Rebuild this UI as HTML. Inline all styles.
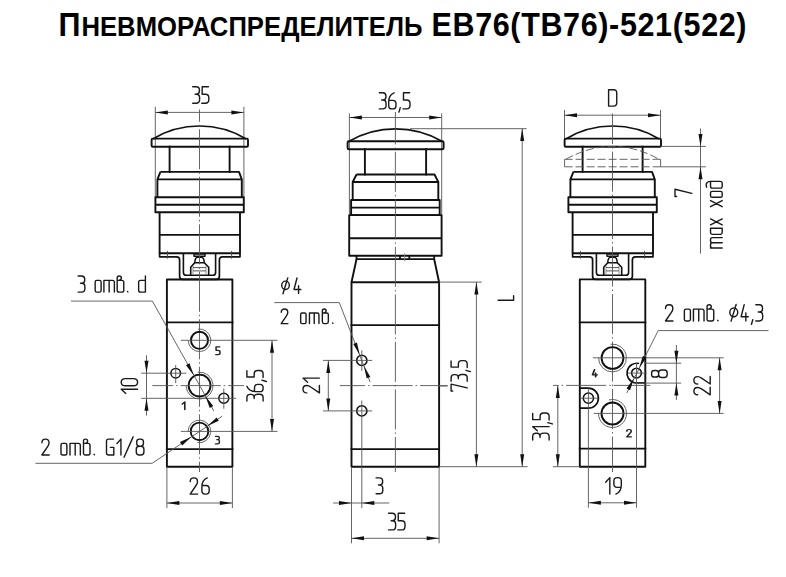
<!DOCTYPE html>
<html><head><meta charset="utf-8"><style>
html,body{margin:0;padding:0;background:#fff;}
body{width:786px;height:577px;overflow:hidden;font-family:"Liberation Sans",sans-serif;}
svg{display:block;}
</style></head><body>
<svg width="786" height="577" viewBox="0 0 786 577">
<rect width="786" height="577" fill="#fff"/>
<text y="35.9" transform="scale(0.930 1)" font-family="Liberation Sans" font-weight="bold" fill="#000"><tspan x="62.90" font-size="32.8">П</tspan><tspan x="87.53" font-size="27.6" textLength="366.67" lengthAdjust="spacing">НЕВМОРАСПРЕДЕЛИТЕЛЬ</tspan><tspan x="463.98" font-size="32.8" textLength="338.71" lengthAdjust="spacing">ЕВ76(ТВ76)-521(522)</tspan></text>
<line x1="155.30" y1="106.70" x2="155.30" y2="197.30" stroke="#555" stroke-width="0.90"/>
<line x1="243.90" y1="106.70" x2="243.90" y2="197.30" stroke="#555" stroke-width="0.90"/>
<line x1="155.30" y1="112.40" x2="243.90" y2="112.40" stroke="#555" stroke-width="0.90"/>
<path d="M155.30,112.40 L167.80,110.40 L167.80,114.40 Z" fill="#111"/>
<path d="M243.90,112.40 L231.40,114.40 L231.40,110.40 Z" fill="#111"/>
<g transform="translate(192.70 103.20) scale(1.6400 1.6400) translate(0 -10)" fill="none" stroke="#1a1a1a" stroke-width="0.854" stroke-linecap="round" stroke-linejoin="round"><path transform="translate(0.000 0)" d="M0,0H2.2Q4.1,0 4.1,2.0V2.6Q4.1,4.5 2.2,4.5H1.5M2.3,4.5Q4.2,4.5 4.2,6.6V7.9Q4.2,10 2.1,10H0"/><path transform="translate(5.517 0)" d="M4.1,0H0.25V4.5H2.2Q4.3,4.5 4.3,6.6V7.9Q4.3,10 2.2,10H0"/></g>
<path d="M152.80,138.9 A91.0,91.0 0 0 1 246.20,138.9" fill="none" stroke="#111" stroke-width="1.70" stroke-linejoin="round"/>
<path d="M152.80,138.6 H246.80 Q248.00,138.6 248.00,140 V145.4 Q248.00,146.7 246.80,146.7 H152.80 Q151.60,146.7 151.60,145.4 V140 Q151.60,138.6 152.80,138.6 Z" fill="none" stroke="#111" stroke-width="1.90" stroke-linejoin="round"/>
<line x1="169.60" y1="146.70" x2="169.60" y2="171.90" stroke="#111" stroke-width="1.90" stroke-linecap="square"/>
<line x1="229.60" y1="146.70" x2="229.60" y2="171.90" stroke="#111" stroke-width="1.90" stroke-linecap="square"/>
<path d="M160.40,171.9 H239.00 L241.80,179.4 V197.3 M160.40,171.9 L157.40,179.4 V197.3 M157.40,179.4 H241.80" fill="none" stroke="#111" stroke-width="1.90" stroke-linejoin="round"/>
<path d="M155.40,197.3 H243.80 V212.2 H155.40 Z M155.40,204.8 H243.80" fill="none" stroke="#111" stroke-width="1.90" stroke-linejoin="round"/>
<path d="M159.60,212.2 V253.20 H240.00 V212.2 M159.60,234.9 H240.00" fill="none" stroke="#111" stroke-width="1.90" stroke-linejoin="round"/>
<path d="M159.60,253.20 V256.80 H176.60 Q179.60,256.80 179.60,259.80 V276.3 Q179.60,279.4 182.70,279.4 H216.30 Q219.40,279.4 219.40,276.3 V259.80 Q219.40,256.80 222.40,256.80 H240.00 V253.20" fill="none" stroke="#111" stroke-width="1.70" stroke-linejoin="round"/>
<path d="M183.40,253.20 V272.4 Q183.40,275.3 186.30,275.3 H212.70 Q215.60,275.3 215.60,272.4 V253.20" fill="none" stroke="#111" stroke-width="1.60" stroke-linejoin="round"/>
<line x1="167.40" y1="250.90" x2="167.40" y2="258.70" stroke="#444" stroke-width="0.90"/>
<line x1="231.60" y1="250.90" x2="231.60" y2="258.70" stroke="#444" stroke-width="0.90"/>
<path d="M194.00,254.10 H205.00 V256.20 H194.00 Z" fill="none" stroke="#111" stroke-width="1.40" stroke-linejoin="round"/>
<path d="M194.70,262.7 C195.00,258.6 196.00,257.3 197.60,257.3 H201.40 C203.00,257.3 204.00,258.6 204.30,262.7 Z" fill="none" stroke="#111" stroke-width="1.50" stroke-linejoin="round"/>
<path d="M194.70,262.7 L190.70,267.2 V275.3 M204.30,262.7 L208.70,267.2 V275.3" fill="none" stroke="#111" stroke-width="1.60" stroke-linejoin="round"/>
<line x1="193.00" y1="267.60" x2="206.00" y2="267.60" stroke="#444" stroke-width="0.90"/>
<line x1="193.00" y1="270.90" x2="206.00" y2="270.90" stroke="#444" stroke-width="0.90"/>
<line x1="193.00" y1="266.00" x2="193.00" y2="274.50" stroke="#777" stroke-width="0.80"/>
<line x1="206.00" y1="266.00" x2="206.00" y2="274.50" stroke="#777" stroke-width="0.80"/>
<path d="M166.9,279.5 H232.4 V466.7 H166.9 Z" fill="none" stroke="#111" stroke-width="1.90" stroke-linejoin="round"/>
<line x1="166.90" y1="322.40" x2="232.40" y2="322.40" stroke="#111" stroke-width="1.90" stroke-linecap="square"/>
<line x1="166.90" y1="449.10" x2="232.40" y2="449.10" stroke="#111" stroke-width="1.90" stroke-linecap="square"/>
<line x1="199.50" y1="109.50" x2="199.50" y2="472.00" stroke="#555" stroke-width="0.90" stroke-dasharray="40 3 1.5 3" stroke-dashoffset="-19.8"/>
<circle cx="199.50" cy="340.30" r="8.55" fill="none" stroke="#111" stroke-width="1.90"/>
<path d="M197.93,329.11 A11.30,11.30 0 1 1 188.21,340.69" fill="none" stroke="#555" stroke-width="0.90" stroke-linejoin="round"/>
<circle cx="199.60" cy="385.60" r="10.95" fill="none" stroke="#111" stroke-width="1.90"/>
<path d="M197.72,372.23 A13.50,13.50 0 1 1 186.11,386.07" fill="none" stroke="#555" stroke-width="0.90" stroke-linejoin="round"/>
<circle cx="199.50" cy="431.40" r="8.80" fill="none" stroke="#111" stroke-width="1.90"/>
<path d="M188.10,431.40 A11.30,11.30 0 1 1 197.44,442.53" fill="none" stroke="#555" stroke-width="0.90" stroke-linejoin="round"/>
<circle cx="175.70" cy="373.20" r="4.80" fill="none" stroke="#111" stroke-width="1.50"/>
<circle cx="223.80" cy="398.30" r="5.00" fill="none" stroke="#111" stroke-width="1.50"/>
<line x1="180.90" y1="340.30" x2="277.50" y2="340.30" stroke="#555" stroke-width="0.90"/>
<line x1="180.90" y1="431.40" x2="277.50" y2="431.40" stroke="#555" stroke-width="0.90"/>
<line x1="152.30" y1="385.60" x2="244.00" y2="385.60" stroke="#555" stroke-width="0.90" stroke-dasharray="40 3 1.5 3" stroke-dashoffset="19.1"/>
<line x1="141.20" y1="373.20" x2="186.30" y2="373.20" stroke="#555" stroke-width="0.90"/>
<line x1="141.20" y1="398.30" x2="236.00" y2="398.30" stroke="#555" stroke-width="0.90"/>
<line x1="175.70" y1="365.00" x2="175.70" y2="383.20" stroke="#555" stroke-width="0.90"/>
<line x1="223.80" y1="388.40" x2="223.80" y2="408.80" stroke="#555" stroke-width="0.90"/>
<g transform="translate(215.80 354.70) scale(0.9767 0.7900) translate(0 -10)" fill="none" stroke="#222" stroke-width="1.519" stroke-linecap="round" stroke-linejoin="round"><path transform="translate(0.000 0)" d="M4.1,0H0.25V4.5H2.2Q4.3,4.5 4.3,6.6V7.9Q4.3,10 2.2,10H0"/></g>
<g transform="translate(182.20 409.60) scale(1.0400 0.7600) translate(0 -10)" fill="none" stroke="#222" stroke-width="1.579" stroke-linecap="round" stroke-linejoin="round"><path transform="translate(0.000 0)" d="M0,2.8L2.5,0V10"/></g>
<g transform="translate(215.50 443.90) scale(0.9268 0.7600) translate(0 -10)" fill="none" stroke="#222" stroke-width="1.579" stroke-linecap="round" stroke-linejoin="round"><path transform="translate(0.000 0)" d="M0,0H2.2Q4.1,0 4.1,2.0V2.6Q4.1,4.5 2.2,4.5H1.5M2.3,4.5Q4.2,4.5 4.2,6.6V7.9Q4.2,10 2.1,10H0"/></g>
<line x1="146.50" y1="355.30" x2="146.50" y2="415.60" stroke="#555" stroke-width="0.90"/>
<path d="M146.50,373.20 L144.50,360.70 L148.50,360.70 Z" fill="#111"/>
<path d="M146.50,398.30 L148.50,410.80 L144.50,410.80 Z" fill="#111"/>
<g transform="translate(137.60 393.40) rotate(-90) scale(1.6400 1.6400) translate(0 -10)" fill="none" stroke="#1a1a1a" stroke-width="0.854" stroke-linecap="round" stroke-linejoin="round"><path transform="translate(0.000 0)" d="M0,2.8L2.5,0V10"/><path transform="translate(4.624 0)" d="M2.2,0Q4.4,0 4.4,2.6V7.4Q4.4,10 2.2,10Q0,10 0,7.4V2.6Q0,0 2.2,0Z"/></g>
<line x1="272.00" y1="340.30" x2="272.00" y2="431.40" stroke="#555" stroke-width="0.90"/>
<path d="M272.00,340.30 L274.00,352.80 L270.00,352.80 Z" fill="#111"/>
<path d="M272.00,431.40 L270.00,418.90 L274.00,418.90 Z" fill="#111"/>
<g transform="translate(263.10 401.00) rotate(-90) scale(1.6200 1.6200) translate(0 -10)" fill="none" stroke="#1a1a1a" stroke-width="0.864" stroke-linecap="round" stroke-linejoin="round"><path transform="translate(0.000 0)" d="M0,0H2.2Q4.1,0 4.1,2.0V2.6Q4.1,4.5 2.2,4.5H1.5M2.3,4.5Q4.2,4.5 4.2,6.6V7.9Q4.2,10 2.1,10H0"/><path transform="translate(5.776 0)" d="M3.3,0Q0,1.3 0,5.6V8.0Q0,10 2.0,10H2.5Q4.5,10 4.5,8.0V6.7Q4.5,4.7 2.5,4.7H0.05"/><path transform="translate(11.951 0)" d="M0.9,9.2L0.1,12"/><path transform="translate(14.527 0)" d="M4.1,0H0.25V4.5H2.2Q4.3,4.5 4.3,6.6V7.9Q4.3,10 2.2,10H0"/></g>
<line x1="166.90" y1="466.70" x2="166.90" y2="508.00" stroke="#555" stroke-width="0.90"/>
<line x1="232.40" y1="466.70" x2="232.40" y2="508.00" stroke="#555" stroke-width="0.90"/>
<line x1="166.90" y1="503.00" x2="232.40" y2="503.00" stroke="#555" stroke-width="0.90"/>
<path d="M166.90,503.00 L179.40,501.00 L179.40,505.00 Z" fill="#111"/>
<path d="M232.40,503.00 L219.90,505.00 L219.90,501.00 Z" fill="#111"/>
<g transform="translate(190.20 494.10) scale(1.6200 1.6200) translate(0 -10)" fill="none" stroke="#1a1a1a" stroke-width="0.864" stroke-linecap="round" stroke-linejoin="round"><path transform="translate(0.000 0)" d="M0,2.3C0,0.6 1.1,0 2.3,0C3.6,0 4.5,0.8 4.5,2.3C4.5,3.3 4.1,4.0 3.6,4.7L0,10H4.6"/><path transform="translate(7.228 0)" d="M3.3,0Q0,1.3 0,5.6V8.0Q0,10 2.0,10H2.5Q4.5,10 4.5,8.0V6.7Q4.5,4.7 2.5,4.7H0.05"/></g>
<line x1="71.00" y1="301.10" x2="152.40" y2="301.10" stroke="#555" stroke-width="0.90"/>
<line x1="152.40" y1="301.10" x2="213.80" y2="410.90" stroke="#555" stroke-width="0.90"/>
<path d="M193.80,375.21 L185.96,365.27 L189.45,363.32 Z" fill="#111"/>
<path d="M205.40,395.99 L213.24,405.93 L209.75,407.88 Z" fill="#111"/>
<g transform="translate(78.10 292.10) scale(1.6100 1.6100) translate(0 -10)" fill="none" stroke="#1a1a1a" stroke-width="0.870" stroke-linecap="round" stroke-linejoin="round"><path transform="translate(0.000 0)" d="M0,0H2.2Q4.1,0 4.1,2.0V2.6Q4.1,4.5 2.2,4.5H1.5M2.3,4.5Q4.2,4.5 4.2,6.6V7.9Q4.2,10 2.1,10H0"/><path transform="translate(10.600 0)" d="M1,2.7H2.7Q3.7,2.7 3.7,3.7V9Q3.7,10 2.7,10H1Q0,10 0,9V3.7Q0,2.7 1,2.7Z"/><path transform="translate(16.034 0)" d="M0,10V2.7H5.3Q6.5,2.7 6.5,3.9V10M3.25,2.7V10"/><path transform="translate(24.267 0)" d="M0,8.8V1.3Q0,0 1.3,0Q2.6,0 2.6,1.3Q2.6,2.4 1.0,2.7M0,2.7H2.9Q4.1,2.7 4.1,3.9V8.8Q4.1,10 2.9,10H1.2Q0,10 0,8.8"/><path transform="translate(30.101 0)" d="M0.6,9.6L0.8,9.85"/><path transform="translate(37.601 0)" d="M4.2,0V10H1.2Q0,10 0,8.8V3.9Q0,2.7 1.2,2.7H4.2"/></g>
<line x1="35.40" y1="463.30" x2="152.20" y2="463.30" stroke="#555" stroke-width="0.90"/>
<line x1="152.20" y1="463.30" x2="222.20" y2="416.20" stroke="#555" stroke-width="0.90"/>
<path d="M191.44,436.76 L182.18,445.40 L179.95,442.08 Z" fill="#111"/>
<path d="M207.36,426.04 L216.62,417.40 L218.85,420.72 Z" fill="#111"/>
<g transform="translate(41.90 455.00) scale(1.5900 1.5900) translate(0 -10)" fill="none" stroke="#1a1a1a" stroke-width="0.881" stroke-linecap="round" stroke-linejoin="round"><path transform="translate(0.000 0)" d="M0,2.3C0,0.6 1.1,0 2.3,0C3.6,0 4.5,0.8 4.5,2.3C4.5,3.3 4.1,4.0 3.6,4.7L0,10H4.6"/><path transform="translate(12.003 0)" d="M1,2.7H2.7Q3.7,2.7 3.7,3.7V9Q3.7,10 2.7,10H1Q0,10 0,9V3.7Q0,2.7 1,2.7Z"/><path transform="translate(17.677 0)" d="M0,10V2.7H5.3Q6.5,2.7 6.5,3.9V10M3.25,2.7V10"/><path transform="translate(26.151 0)" d="M0,8.8V1.3Q0,0 1.3,0Q2.6,0 2.6,1.3Q2.6,2.4 1.0,2.7M0,2.7H2.9Q4.1,2.7 4.1,3.9V8.8Q4.1,10 2.9,10H1.2Q0,10 0,8.8"/><path transform="translate(32.225 0)" d="M0.6,9.6L0.8,9.85"/><path transform="translate(40.629 0)" d="M4.4,0H1.3Q0,0 0,1.3V8.7Q0,10 1.3,10H4.6V5.2H2.4"/><path transform="translate(47.203 0)" d="M0,2.8L2.5,0V10"/><path transform="translate(51.677 0)" d="M5.7,-1.4L0,11.4"/><path transform="translate(59.351 0)" d="M2.0,0H2.8Q4.5,0 4.5,1.7V2.8Q4.5,4.5 2.8,4.5H2.0Q0.3,4.5 0.3,2.8V1.7Q0.3,0 2.0,0ZM1.9,4.5H2.9Q4.8,4.5 4.8,6.4V8.1Q4.8,10 2.9,10H1.9Q0,10 0,8.1V6.4Q0,4.5 1.9,4.5Z"/></g>
<line x1="349.40" y1="113.30" x2="349.40" y2="214.70" stroke="#555" stroke-width="0.90"/>
<line x1="441.70" y1="113.30" x2="441.70" y2="214.70" stroke="#555" stroke-width="0.90"/>
<line x1="349.40" y1="117.50" x2="441.70" y2="117.50" stroke="#555" stroke-width="0.90"/>
<path d="M349.40,117.50 L361.90,115.50 L361.90,119.50 Z" fill="#111"/>
<path d="M441.70,117.50 L429.20,119.50 L429.20,115.50 Z" fill="#111"/>
<g transform="translate(379.30 108.90) scale(1.6100 1.6100) translate(0 -10)" fill="none" stroke="#1a1a1a" stroke-width="0.870" stroke-linecap="round" stroke-linejoin="round"><path transform="translate(0.000 0)" d="M0,0H2.2Q4.1,0 4.1,2.0V2.6Q4.1,4.5 2.2,4.5H1.5M2.3,4.5Q4.2,4.5 4.2,6.6V7.9Q4.2,10 2.1,10H0"/><path transform="translate(5.856 0)" d="M3.3,0Q0,1.3 0,5.6V8.0Q0,10 2.0,10H2.5Q4.5,10 4.5,8.0V6.7Q4.5,4.7 2.5,4.7H0.05"/><path transform="translate(12.112 0)" d="M0.9,9.2L0.1,12"/><path transform="translate(14.768 0)" d="M4.1,0H0.25V4.5H2.2Q4.3,4.5 4.3,6.6V7.9Q4.3,10 2.2,10H0"/></g>
<path d="M348.6,141.4 A93.6,93.6 0 0 1 442.4,141.4" fill="none" stroke="#111" stroke-width="1.70" stroke-linejoin="round"/>
<path d="M349.0,141.2 H442.2 Q443.6,141.2 443.6,142.6 V147.9 Q443.6,149.3 442.2,149.3 H349.0 Q347.6,149.3 347.6,147.9 V142.6 Q347.6,141.2 349.0,141.2 Z" fill="none" stroke="#111" stroke-width="1.90" stroke-linejoin="round"/>
<line x1="364.90" y1="149.30" x2="364.90" y2="174.50" stroke="#111" stroke-width="1.90" stroke-linecap="square"/>
<line x1="426.10" y1="149.30" x2="426.10" y2="174.50" stroke="#111" stroke-width="1.90" stroke-linecap="square"/>
<path d="M356.5,174.5 H434.5 L438.3,182.0 V200.0 M356.5,174.5 L352.7,182.0 V200.0 M352.7,182.0 H438.3" fill="none" stroke="#111" stroke-width="1.90" stroke-linejoin="round"/>
<path d="M351.1,200.0 H439.7 V215.1 H351.1 Z M351.1,207.6 H439.7" fill="none" stroke="#111" stroke-width="1.90" stroke-linejoin="round"/>
<path d="M349.2,215.1 H441.6 V255.7 H349.2 Z M349.2,238.2 H441.6" fill="none" stroke="#111" stroke-width="1.90" stroke-linejoin="round"/>
<path d="M356.5,255.7 V259.2 H434.2 V255.7 M400.0,255.7 V259.2 M409.3,255.7 V259.2" fill="none" stroke="#111" stroke-width="1.80" stroke-linejoin="round"/>
<line x1="404.70" y1="253.30" x2="404.70" y2="261.30" stroke="#888" stroke-width="0.80"/>
<path d="M356.5,259.2 L351.5,282.2 M434.2,259.2 L439.1,282.2" fill="none" stroke="#111" stroke-width="1.90" stroke-linejoin="round"/>
<path d="M351.5,282.2 H439.1 V466.7 H351.5 Z" fill="none" stroke="#111" stroke-width="1.90" stroke-linejoin="round"/>
<line x1="351.50" y1="325.10" x2="439.10" y2="325.10" stroke="#111" stroke-width="1.90" stroke-linecap="square"/>
<line x1="351.50" y1="449.10" x2="439.10" y2="449.10" stroke="#111" stroke-width="1.90" stroke-linecap="square"/>
<line x1="395.40" y1="112.00" x2="395.40" y2="472.00" stroke="#555" stroke-width="0.90" stroke-dasharray="40 3 1.5 3" stroke-dashoffset="-39.9"/>
<line x1="339.90" y1="385.60" x2="447.40" y2="385.60" stroke="#555" stroke-width="0.90" stroke-dasharray="40 3 1.5 3" stroke-dashoffset="14.8"/>
<circle cx="361.80" cy="360.40" r="5.10" fill="none" stroke="#111" stroke-width="1.60"/>
<circle cx="361.80" cy="410.90" r="5.10" fill="none" stroke="#111" stroke-width="1.60"/>
<line x1="323.00" y1="360.40" x2="372.20" y2="360.40" stroke="#555" stroke-width="0.90"/>
<line x1="323.00" y1="410.90" x2="372.20" y2="410.90" stroke="#555" stroke-width="0.90"/>
<line x1="361.80" y1="350.30" x2="361.80" y2="371.00" stroke="#555" stroke-width="0.90"/>
<line x1="361.80" y1="400.50" x2="361.80" y2="508.00" stroke="#555" stroke-width="0.90"/>
<line x1="274.30" y1="302.60" x2="339.30" y2="302.60" stroke="#555" stroke-width="0.90"/>
<line x1="339.30" y1="302.60" x2="370.10" y2="382.00" stroke="#555" stroke-width="0.90"/>
<path d="M359.63,354.81 L353.24,343.88 L356.97,342.43 Z" fill="#111"/>
<path d="M363.97,365.99 L370.36,376.92 L366.63,378.37 Z" fill="#111"/>
<g transform="translate(281.70 293.60) scale(1.5600 1.5600) translate(0 -10)" fill="none" stroke="#1a1a1a" stroke-width="0.897" stroke-linecap="round" stroke-linejoin="round"><path transform="translate(0.000 0)" d="M2.45,2.0A2.45,2.7 0 1 0 2.45,7.4A2.45,2.7 0 1 0 2.45,2.0ZM3.9,-0.1L0.8,10.1"/><path transform="translate(7.708 0)" d="M2.1,0L0.2,7.4H4.6M3.1,5.0V10"/></g>
<g transform="translate(281.20 323.60) scale(1.4600 1.4600) translate(0 -10)" fill="none" stroke="#1a1a1a" stroke-width="0.959" stroke-linecap="round" stroke-linejoin="round"><path transform="translate(0.000 0)" d="M0,2.3C0,0.6 1.1,0 2.3,0C3.6,0 4.5,0.8 4.5,2.3C4.5,3.3 4.1,4.0 3.6,4.7L0,10H4.6"/><path transform="translate(13.331 0)" d="M1,2.7H2.7Q3.7,2.7 3.7,3.7V9Q3.7,10 2.7,10H1Q0,10 0,9V3.7Q0,2.7 1,2.7Z"/><path transform="translate(19.360 0)" d="M0,10V2.7H5.3Q6.5,2.7 6.5,3.9V10M3.25,2.7V10"/><path transform="translate(28.188 0)" d="M0,8.8V1.3Q0,0 1.3,0Q2.6,0 2.6,1.3Q2.6,2.4 1.0,2.7M0,2.7H2.9Q4.1,2.7 4.1,3.9V8.8Q4.1,10 2.9,10H1.2Q0,10 0,8.8"/><path transform="translate(34.616 0)" d="M0.6,9.6L0.8,9.85"/></g>
<line x1="328.30" y1="360.40" x2="328.30" y2="410.90" stroke="#555" stroke-width="0.90"/>
<path d="M328.30,360.40 L330.30,372.90 L326.30,372.90 Z" fill="#111"/>
<path d="M328.30,410.90 L326.30,398.40 L330.30,398.40 Z" fill="#111"/>
<g transform="translate(319.40 392.90) rotate(-90) scale(1.6400 1.6400) translate(0 -10)" fill="none" stroke="#1a1a1a" stroke-width="0.854" stroke-linecap="round" stroke-linejoin="round"><path transform="translate(0.000 0)" d="M0,2.3C0,0.6 1.1,0 2.3,0C3.6,0 4.5,0.8 4.5,2.3C4.5,3.3 4.1,4.0 3.6,4.7L0,10H4.6"/><path transform="translate(6.524 0)" d="M0,2.8L2.5,0V10"/></g>
<line x1="351.50" y1="466.70" x2="351.50" y2="543.30" stroke="#555" stroke-width="0.90"/>
<line x1="439.10" y1="466.70" x2="439.10" y2="543.30" stroke="#555" stroke-width="0.90"/>
<line x1="333.10" y1="503.00" x2="389.30" y2="503.00" stroke="#555" stroke-width="0.90"/>
<path d="M351.50,503.00 L339.00,505.00 L339.00,501.00 Z" fill="#111"/>
<path d="M361.80,503.00 L374.30,501.00 L374.30,505.00 Z" fill="#111"/>
<g transform="translate(376.10 493.80) scale(1.5900 1.5900) translate(0 -10)" fill="none" stroke="#1a1a1a" stroke-width="0.881" stroke-linecap="round" stroke-linejoin="round"><path transform="translate(0.000 0)" d="M0,0H2.2Q4.1,0 4.1,2.0V2.6Q4.1,4.5 2.2,4.5H1.5M2.3,4.5Q4.2,4.5 4.2,6.6V7.9Q4.2,10 2.1,10H0"/></g>
<line x1="351.50" y1="538.30" x2="439.10" y2="538.30" stroke="#555" stroke-width="0.90"/>
<path d="M351.50,538.30 L364.00,536.30 L364.00,540.30 Z" fill="#111"/>
<path d="M439.10,538.30 L426.60,540.30 L426.60,536.30 Z" fill="#111"/>
<g transform="translate(388.60 529.90) scale(1.6700 1.6700) translate(0 -10)" fill="none" stroke="#1a1a1a" stroke-width="0.838" stroke-linecap="round" stroke-linejoin="round"><path transform="translate(0.000 0)" d="M0,0H2.2Q4.1,0 4.1,2.0V2.6Q4.1,4.5 2.2,4.5H1.5M2.3,4.5Q4.2,4.5 4.2,6.6V7.9Q4.2,10 2.1,10H0"/><path transform="translate(5.520 0)" d="M4.1,0H0.25V4.5H2.2Q4.3,4.5 4.3,6.6V7.9Q4.3,10 2.2,10H0"/></g>
<line x1="410.00" y1="128.70" x2="526.70" y2="128.70" stroke="#555" stroke-width="0.90"/>
<line x1="439.10" y1="282.10" x2="481.70" y2="282.10" stroke="#555" stroke-width="0.90"/>
<line x1="439.10" y1="466.70" x2="527.60" y2="466.70" stroke="#555" stroke-width="0.90"/>
<line x1="476.40" y1="282.10" x2="476.40" y2="466.70" stroke="#555" stroke-width="0.90"/>
<path d="M476.40,282.10 L478.40,294.60 L474.40,294.60 Z" fill="#111"/>
<path d="M476.40,466.70 L474.40,454.20 L478.40,454.20 Z" fill="#111"/>
<line x1="522.20" y1="128.60" x2="522.20" y2="466.70" stroke="#555" stroke-width="0.90"/>
<path d="M522.20,128.60 L524.20,141.10 L520.20,141.10 Z" fill="#111"/>
<path d="M522.20,466.70 L520.20,454.20 L524.20,454.20 Z" fill="#111"/>
<line x1="439.10" y1="386.00" x2="447.90" y2="386.00" stroke="#555" stroke-width="0.90"/>
<g transform="translate(467.20 391.00) rotate(-90) scale(1.6100 1.6100) translate(0 -10)" fill="none" stroke="#1a1a1a" stroke-width="0.870" stroke-linecap="round" stroke-linejoin="round"><path transform="translate(0.000 0)" d="M0,1.0V0H4.3L1.9,10"/><path transform="translate(6.061 0)" d="M0,0H2.2Q4.1,0 4.1,2.0V2.6Q4.1,4.5 2.2,4.5H1.5M2.3,4.5Q4.2,4.5 4.2,6.6V7.9Q4.2,10 2.1,10H0"/><path transform="translate(11.921 0)" d="M0.9,9.2L0.1,12"/><path transform="translate(14.582 0)" d="M4.1,0H0.25V4.5H2.2Q4.3,4.5 4.3,6.6V7.9Q4.3,10 2.2,10H0"/></g>
<g transform="translate(513.60 300.30) rotate(-90) scale(1.5500 1.5500) translate(0 -10)" fill="none" stroke="#1a1a1a" stroke-width="0.903" stroke-linecap="round" stroke-linejoin="round"><path transform="translate(0.000 0)" d="M0,0V10H3"/></g>
<line x1="564.50" y1="109.90" x2="564.50" y2="139.00" stroke="#555" stroke-width="0.90"/>
<line x1="660.50" y1="109.90" x2="660.50" y2="139.00" stroke="#555" stroke-width="0.90"/>
<line x1="564.50" y1="115.20" x2="660.50" y2="115.20" stroke="#555" stroke-width="0.90"/>
<path d="M564.50,115.20 L577.00,113.20 L577.00,117.20 Z" fill="#111"/>
<path d="M660.50,115.20 L648.00,117.20 L648.00,113.20 Z" fill="#111"/>
<g transform="translate(608.60 106.10) scale(1.6300 1.6300) translate(0 -10)" fill="none" stroke="#1a1a1a" stroke-width="0.859" stroke-linecap="round" stroke-linejoin="round"><path transform="translate(0.000 0)" d="M0,0V10H3.0Q5,10 5,8.0V2.0Q5,0 3.0,0Z"/></g>
<path d="M565.80,138.9 A91.0,91.0 0 0 1 659.20,138.9" fill="none" stroke="#111" stroke-width="1.70" stroke-linejoin="round"/>
<path d="M565.80,138.6 H659.80 Q661.00,138.6 661.00,140 V145.4 Q661.00,146.7 659.80,146.7 H565.80 Q564.60,146.7 564.60,145.4 V140 Q564.60,138.6 565.80,138.6 Z" fill="none" stroke="#111" stroke-width="1.90" stroke-linejoin="round"/>
<line x1="582.60" y1="146.70" x2="582.60" y2="171.90" stroke="#111" stroke-width="1.90" stroke-linecap="square"/>
<line x1="642.60" y1="146.70" x2="642.60" y2="171.90" stroke="#111" stroke-width="1.90" stroke-linecap="square"/>
<path d="M573.40,171.9 H652.00 L654.80,179.4 V197.3 M573.40,171.9 L570.40,179.4 V197.3 M570.40,179.4 H654.80" fill="none" stroke="#111" stroke-width="1.90" stroke-linejoin="round"/>
<path d="M568.40,197.3 H656.80 V212.2 H568.40 Z M568.40,204.8 H656.80" fill="none" stroke="#111" stroke-width="1.90" stroke-linejoin="round"/>
<path d="M572.60,212.2 V253.20 H653.00 V212.2 M572.60,234.9 H653.00" fill="none" stroke="#111" stroke-width="1.90" stroke-linejoin="round"/>
<path d="M572.60,253.20 V256.80 H589.60 Q592.60,256.80 592.60,259.80 V276.3 Q592.60,279.4 595.70,279.4 H629.30 Q632.40,279.4 632.40,276.3 V259.80 Q632.40,256.80 635.40,256.80 H653.00 V253.20" fill="none" stroke="#111" stroke-width="1.70" stroke-linejoin="round"/>
<path d="M596.40,253.20 V272.4 Q596.40,275.3 599.30,275.3 H625.70 Q628.60,275.3 628.60,272.4 V253.20" fill="none" stroke="#111" stroke-width="1.60" stroke-linejoin="round"/>
<line x1="580.40" y1="250.90" x2="580.40" y2="258.70" stroke="#444" stroke-width="0.90"/>
<line x1="644.60" y1="250.90" x2="644.60" y2="258.70" stroke="#444" stroke-width="0.90"/>
<path d="M607.00,254.10 H618.00 V256.20 H607.00 Z" fill="none" stroke="#111" stroke-width="1.40" stroke-linejoin="round"/>
<path d="M607.70,262.7 C608.00,258.6 609.00,257.3 610.60,257.3 H614.40 C616.00,257.3 617.00,258.6 617.30,262.7 Z" fill="none" stroke="#111" stroke-width="1.50" stroke-linejoin="round"/>
<path d="M607.70,262.7 L603.70,267.2 V275.3 M617.30,262.7 L621.70,267.2 V275.3" fill="none" stroke="#111" stroke-width="1.60" stroke-linejoin="round"/>
<line x1="606.00" y1="267.60" x2="619.00" y2="267.60" stroke="#444" stroke-width="0.90"/>
<line x1="606.00" y1="270.90" x2="619.00" y2="270.90" stroke="#444" stroke-width="0.90"/>
<line x1="606.00" y1="266.00" x2="606.00" y2="274.50" stroke="#777" stroke-width="0.80"/>
<line x1="619.00" y1="266.00" x2="619.00" y2="274.50" stroke="#777" stroke-width="0.80"/>
<path d="M565.80,159.30 Q612.5,133.40 659.20,159.30" fill="none" stroke="#555" stroke-width="0.90" stroke-linejoin="round" stroke-dasharray="8 3"/>
<path d="M564.6,159.30 H660.6 M564.6,166.80 H660.6" fill="none" stroke="#555" stroke-width="0.90" stroke-linejoin="round" stroke-dasharray="8 3"/>
<line x1="564.60" y1="159.30" x2="564.60" y2="166.80" stroke="#555" stroke-width="0.90"/>
<line x1="660.60" y1="159.30" x2="660.60" y2="166.80" stroke="#555" stroke-width="0.90"/>
<line x1="660.60" y1="146.40" x2="705.90" y2="146.40" stroke="#555" stroke-width="0.90"/>
<line x1="660.60" y1="166.80" x2="705.90" y2="166.80" stroke="#555" stroke-width="0.90"/>
<line x1="700.50" y1="128.50" x2="700.50" y2="253.60" stroke="#555" stroke-width="0.90"/>
<path d="M700.50,146.40 L698.50,133.90 L702.50,133.90 Z" fill="#111"/>
<path d="M700.50,166.80 L702.50,179.30 L698.50,179.30 Z" fill="#111"/>
<g transform="translate(691.80 196.50) rotate(-90) scale(1.6800 1.6800) translate(0 -10)" fill="none" stroke="#1a1a1a" stroke-width="0.833" stroke-linecap="round" stroke-linejoin="round"><path transform="translate(0.000 0)" d="M0,1.0V0H4.3L1.9,10"/></g>
<g transform="translate(722.20 248.00) rotate(-90) scale(1.6000 1.6000) translate(0 -10)" fill="none" stroke="#1a1a1a" stroke-width="0.875" stroke-linecap="round" stroke-linejoin="round"><path transform="translate(0.000 0)" d="M0,10V2.7M0,3.9Q0,2.7 1.2,2.7H2.1Q3.25,2.7 3.25,3.9V10M3.25,3.9Q3.25,2.7 4.4,2.7H5.3Q6.5,2.7 6.5,3.9V10"/><path transform="translate(8.542 0)" d="M3.8,2.7V10H1.1Q0,10 0,8.9V3.8Q0,2.7 1.1,2.7H3.8"/><path transform="translate(14.384 0)" d="M0,2.7L3.8,10M3.8,2.7L0,10"/><path transform="translate(25.841 0)" d="M0,2.7L3.8,10M3.8,2.7L0,10"/><path transform="translate(31.683 0)" d="M1,2.7H2.7Q3.7,2.7 3.7,3.7V9Q3.7,10 2.7,10H1Q0,10 0,9V3.7Q0,2.7 1,2.7Z"/><path transform="translate(37.425 0)" d="M0.6,0.3Q1.4,0 2.3,0Q4.2,0.4 4.2,2.6V8.8Q4.2,10 3,10H1.2Q0,10 0,8.8V3.9Q0,2.7 1.2,2.7H4.2"/></g>
<path d="M579.8,279.4 H645.3 V466.7 H579.8 Z" fill="none" stroke="#111" stroke-width="1.90" stroke-linejoin="round"/>
<line x1="579.80" y1="322.40" x2="645.30" y2="322.40" stroke="#111" stroke-width="1.90" stroke-linecap="square"/>
<line x1="579.80" y1="448.60" x2="645.30" y2="448.60" stroke="#111" stroke-width="1.90" stroke-linecap="square"/>
<line x1="612.50" y1="113.50" x2="612.50" y2="472.00" stroke="#555" stroke-width="0.90" stroke-dasharray="40 3 1.5 3" stroke-dashoffset="-38.1"/>
<circle cx="612.50" cy="358.00" r="10.90" fill="none" stroke="#111" stroke-width="1.90"/>
<path d="M610.57,344.24 A13.90,13.90 0 1 1 598.61,357.51" fill="none" stroke="#555" stroke-width="0.90" stroke-linejoin="round"/>
<circle cx="612.50" cy="413.50" r="11.00" fill="none" stroke="#111" stroke-width="1.90"/>
<path d="M608.88,399.98 A14.00,14.00 0 1 1 598.50,413.50" fill="none" stroke="#555" stroke-width="0.90" stroke-linejoin="round"/>
<circle cx="636.50" cy="373.10" r="4.90" fill="none" stroke="#111" stroke-width="1.50"/>
<path d="M639.1,363.5 A9.9,9.9 0 1 0 634.8,382.9" fill="none" stroke="#111" stroke-width="1.70" stroke-linejoin="round"/>
<path d="M634.8,382.9 H645.3" fill="none" stroke="#111" stroke-width="1.70" stroke-linejoin="round"/>
<circle cx="588.40" cy="398.20" r="5.10" fill="none" stroke="#111" stroke-width="1.50"/>
<path d="M579.8,388.2 H588.4 A10,10 0 0 1 588.4,408.2 H579.8" fill="none" stroke="#111" stroke-width="1.70" stroke-linejoin="round"/>
<line x1="593.00" y1="357.80" x2="723.70" y2="357.80" stroke="#555" stroke-width="0.90"/>
<line x1="645.30" y1="363.20" x2="681.20" y2="363.20" stroke="#555" stroke-width="0.90"/>
<line x1="627.90" y1="373.10" x2="646.70" y2="373.10" stroke="#555" stroke-width="0.90"/>
<line x1="634.30" y1="383.10" x2="681.20" y2="383.10" stroke="#555" stroke-width="0.90"/>
<line x1="593.70" y1="413.40" x2="723.70" y2="413.40" stroke="#555" stroke-width="0.90"/>
<line x1="553.00" y1="385.40" x2="650.30" y2="385.40" stroke="#555" stroke-width="0.90" stroke-dasharray="40 3 1.5 3" stroke-dashoffset="-13.2"/>
<line x1="636.50" y1="363.00" x2="636.50" y2="507.70" stroke="#555" stroke-width="0.90"/>
<line x1="588.40" y1="388.00" x2="588.40" y2="507.70" stroke="#555" stroke-width="0.90"/>
<line x1="579.80" y1="398.20" x2="598.00" y2="398.20" stroke="#555" stroke-width="0.90"/>
<line x1="553.00" y1="466.70" x2="579.80" y2="466.70" stroke="#555" stroke-width="0.90"/>
<line x1="658.20" y1="330.60" x2="768.50" y2="330.60" stroke="#555" stroke-width="0.90"/>
<line x1="658.20" y1="330.60" x2="626.80" y2="393.00" stroke="#555" stroke-width="0.90"/>
<path d="M639.11,367.92 L642.94,355.85 L646.51,357.65 Z" fill="#111"/>
<path d="M633.89,378.28 L630.06,390.35 L626.49,388.55 Z" fill="#111"/>
<g transform="translate(665.50 321.00) scale(1.6300 1.6300) translate(0 -10)" fill="none" stroke="#1a1a1a" stroke-width="0.859" stroke-linecap="round" stroke-linejoin="round"><path transform="translate(0.000 0)" d="M0,2.3C0,0.6 1.1,0 2.3,0C3.6,0 4.5,0.8 4.5,2.3C4.5,3.3 4.1,4.0 3.6,4.7L0,10H4.6"/><path transform="translate(11.575 0)" d="M1,2.7H2.7Q3.7,2.7 3.7,3.7V9Q3.7,10 2.7,10H1Q0,10 0,9V3.7Q0,2.7 1,2.7Z"/><path transform="translate(17.135 0)" d="M0,10V2.7H5.3Q6.5,2.7 6.5,3.9V10M3.25,2.7V10"/><path transform="translate(25.495 0)" d="M0,8.8V1.3Q0,0 1.3,0Q2.6,0 2.6,1.3Q2.6,2.4 1.0,2.7M0,2.7H2.9Q4.1,2.7 4.1,3.9V8.8Q4.1,10 2.9,10H1.2Q0,10 0,8.8"/><path transform="translate(31.455 0)" d="M0.6,9.6L0.8,9.85"/><path transform="translate(39.429 0)" d="M2.45,2.0A2.45,2.7 0 1 0 2.45,7.4A2.45,2.7 0 1 0 2.45,2.0ZM3.9,-0.1L0.8,10.1"/><path transform="translate(46.189 0)" d="M2.1,0L0.2,7.4H4.6M3.1,5.0V10"/><path transform="translate(52.649 0)" d="M0.9,9.2L0.1,12"/><path transform="translate(55.409 0)" d="M0,0H2.2Q4.1,0 4.1,2.0V2.6Q4.1,4.5 2.2,4.5H1.5M2.3,4.5Q4.2,4.5 4.2,6.6V7.9Q4.2,10 2.1,10H0"/></g>
<g transform="translate(592.30 376.80) scale(1.0652 0.7200) translate(0 -10)" fill="none" stroke="#222" stroke-width="1.667" stroke-linecap="round" stroke-linejoin="round"><path transform="translate(0.000 0)" d="M2.1,0L0.2,7.4H4.6M3.1,5.0V10"/></g>
<g transform="translate(626.80 436.80) scale(0.9783 0.7300) translate(0 -10)" fill="none" stroke="#222" stroke-width="1.644" stroke-linecap="round" stroke-linejoin="round"><path transform="translate(0.000 0)" d="M0,2.3C0,0.6 1.1,0 2.3,0C3.6,0 4.5,0.8 4.5,2.3C4.5,3.3 4.1,4.0 3.6,4.7L0,10H4.6"/></g>
<line x1="676.40" y1="345.00" x2="676.40" y2="400.00" stroke="#555" stroke-width="0.90"/>
<path d="M676.40,363.20 L674.40,350.70 L678.40,350.70 Z" fill="#111"/>
<path d="M676.40,383.10 L678.40,395.60 L674.40,395.60 Z" fill="#111"/>
<g transform="translate(667.20 377.50) rotate(-90) scale(1.5600 1.5600) translate(0 -10)" fill="none" stroke="#1a1a1a" stroke-width="0.897" stroke-linecap="round" stroke-linejoin="round"><path transform="translate(0.000 0)" d="M2.0,0H2.8Q4.5,0 4.5,1.7V2.8Q4.5,4.5 2.8,4.5H2.0Q0.3,4.5 0.3,2.8V1.7Q0.3,0 2.0,0ZM1.9,4.5H2.9Q4.8,4.5 4.8,6.4V8.1Q4.8,10 2.9,10H1.9Q0,10 0,8.1V6.4Q0,4.5 1.9,4.5Z"/></g>
<line x1="719.60" y1="357.80" x2="719.60" y2="413.40" stroke="#555" stroke-width="0.90"/>
<path d="M719.60,357.80 L721.60,370.30 L717.60,370.30 Z" fill="#111"/>
<path d="M719.60,413.40 L717.60,400.90 L721.60,400.90 Z" fill="#111"/>
<g transform="translate(710.20 394.80) rotate(-90) scale(1.6300 1.6300) translate(0 -10)" fill="none" stroke="#1a1a1a" stroke-width="0.859" stroke-linecap="round" stroke-linejoin="round"><path transform="translate(0.000 0)" d="M0,2.3C0,0.6 1.1,0 2.3,0C3.6,0 4.5,0.8 4.5,2.3C4.5,3.3 4.1,4.0 3.6,4.7L0,10H4.6"/><path transform="translate(6.627 0)" d="M0,2.3C0,0.6 1.1,0 2.3,0C3.6,0 4.5,0.8 4.5,2.3C4.5,3.3 4.1,4.0 3.6,4.7L0,10H4.6"/></g>
<line x1="557.80" y1="385.40" x2="557.80" y2="466.70" stroke="#555" stroke-width="0.90"/>
<path d="M557.80,385.40 L559.80,397.90 L555.80,397.90 Z" fill="#111"/>
<path d="M557.80,466.70 L555.80,454.20 L559.80,454.20 Z" fill="#111"/>
<g transform="translate(549.10 440.00) rotate(-90) scale(1.6400 1.6400) translate(0 -10)" fill="none" stroke="#1a1a1a" stroke-width="0.854" stroke-linecap="round" stroke-linejoin="round"><path transform="translate(0.000 0)" d="M0,0H2.2Q4.1,0 4.1,2.0V2.6Q4.1,4.5 2.2,4.5H1.5M2.3,4.5Q4.2,4.5 4.2,6.6V7.9Q4.2,10 2.1,10H0"/><path transform="translate(5.654 0)" d="M0,2.8L2.5,0V10"/><path transform="translate(9.709 0)" d="M0.9,9.2L0.1,12"/><path transform="translate(12.163 0)" d="M4.1,0H0.25V4.5H2.2Q4.3,4.5 4.3,6.6V7.9Q4.3,10 2.2,10H0"/></g>
<line x1="588.40" y1="502.80" x2="636.50" y2="502.80" stroke="#555" stroke-width="0.90"/>
<path d="M588.40,502.80 L600.90,500.80 L600.90,504.80 Z" fill="#111"/>
<path d="M636.50,502.80 L624.00,504.80 L624.00,500.80 Z" fill="#111"/>
<g transform="translate(605.70 494.10) scale(1.6500 1.6500) translate(0 -10)" fill="none" stroke="#1a1a1a" stroke-width="0.848" stroke-linecap="round" stroke-linejoin="round"><path transform="translate(0.000 0)" d="M0,2.8L2.5,0V10"/><path transform="translate(4.955 0)" d="M1.2,10Q4.5,8.6 4.5,4.6V2.0Q4.5,0 2.5,0H2.0Q0,0 0,2.0V3.9Q0,5.9 2.0,5.9H4.45"/></g>
</svg>
</body></html>
